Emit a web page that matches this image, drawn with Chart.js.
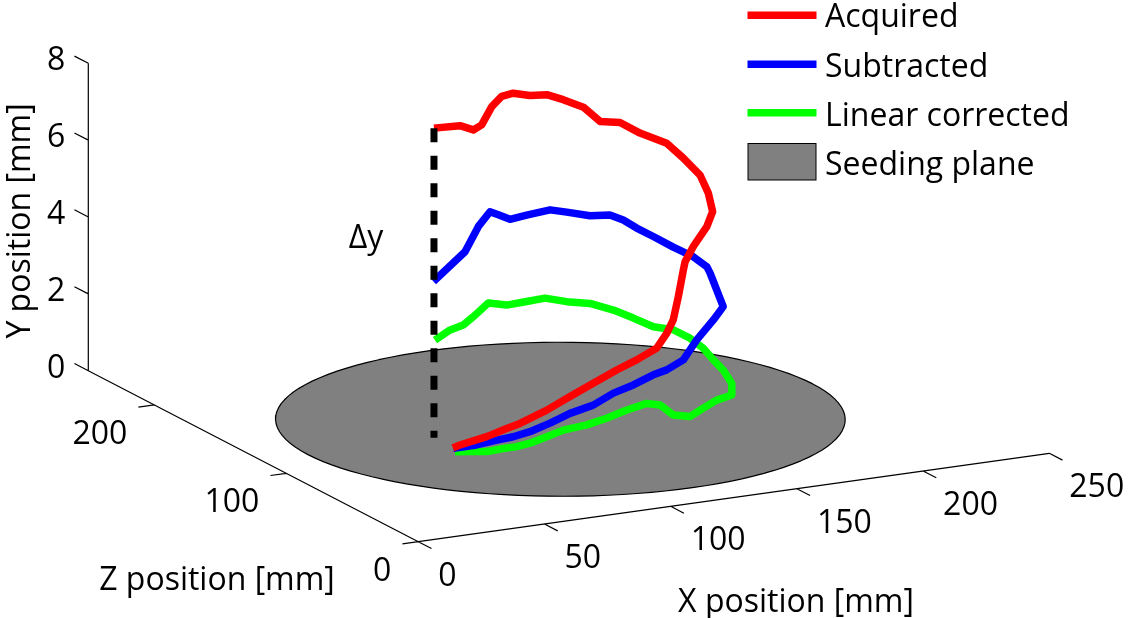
<!DOCTYPE html>
<html>
<head>
<meta charset="utf-8">
<script src="https://cdn.jsdelivr.net/npm/chart.js@4/dist/chart.umd.min.js"></script>
<style>
  html, body { margin: 0; padding: 0; background: #ffffff; }
  #wrap { width: 1128px; height: 618px; position: relative; }
</style>
</head>
<body>
<div id="wrap"><canvas id="chart"></canvas></div>
<script>
// ---- Axis ranges and ticks (mm) ----
const xRange = [0, 250];
const yRange = [0, 8];
const zRange = [0, 250];
const xTicks = [0, 50, 100, 150, 200, 250];
const yTicks = [0, 2, 4, 6, 8];
const zTicks = [0, 100, 200];

// ---- Trajectories: X and Y positions (mm), all tracked at depth Z ----
const trackZ = 117;

const acquiredX = [74.9, 77.7, 88.3, 96.2, 101.5, 112.1, 121.3, 130.5, 139.8, 147.7, 155.6, 159.6, 162.2, 164.2,
  166.2, 166.9, 170.1, 175.5, 177.8, 176.1, 172.8, 166.2, 159.6, 149.0, 141.1, 133.2, 126.6, 118.6, 112.1,
  105.4, 98.8, 94.2, 90.3, 86.3, 83.0, 77.7, 67.4];
const acquiredY = [-0.33, -0.28, -0.16, -0.02, 0.06, 0.31, 0.58, 0.84, 1.10, 1.29, 1.52, 1.87, 2.20, 2.78,
  3.46, 3.67, 4.03, 4.50, 4.87, 5.37, 5.87, 6.37, 6.82, 7.18, 7.53, 7.63, 8.06, 8.33, 8.52,
  8.56, 8.68, 8.64, 8.41, 7.97, 7.87, 8.03, 8.06];

const subtractedX = [75.1, 84.3, 92.3, 98.8, 105.4, 113.4, 121.3, 130.5, 138.5, 146.4, 154.3, 159.6, 166.2, 171.5,
  178.1, 182.0, 179.4, 176.8, 175.5, 170.1, 162.2, 154.3, 147.7, 142.4, 137.1, 129.2, 120.0, 113.4,
  104.1, 97.5, 92.9, 89.6, 85.0, 79.7, 67.2];
const subtractedY = [-0.34, -0.34, -0.29, -0.26, -0.19, -0.04, 0.14, 0.27, 0.51, 0.65, 0.84, 0.92, 1.12, 1.59,
  2.05, 2.36, 2.82, 3.28, 3.46, 3.77, 4.09, 4.44, 4.72, 4.98, 5.16, 5.21, 5.39, 5.51,
  5.46, 5.41, 5.57, 5.68, 5.34, 4.73, 4.07];

const correctedX = [75.7, 81.7, 88.3, 94.9, 100.2, 105.4, 112.1, 118.6, 127.9, 135.8, 143.8, 151.7, 157.0, 162.2,
  168.8, 174.1, 179.4, 185.4, 185.4, 182.0, 178.1, 174.1, 168.8, 162.2, 154.3, 146.4, 138.5, 129.2,
  120.0, 111.4, 104.1, 96.2, 88.9, 83.0, 79.0, 73.8, 67.8];
const correctedY = [-0.44, -0.49, -0.55, -0.53, -0.53, -0.49, -0.38, -0.27, -0.22, -0.12, 0.02, 0.12, 0.03, -0.28,
  -0.38, -0.21, -0.05, 0.03, 0.33, 0.71, 1.01, 1.35, 1.66, 1.94, 2.09, 2.39, 2.67, 2.93,
  3.06, 3.23, 3.21, 3.19, 3.31, 3.01, 2.83, 2.75, 2.54];

// ---- Seeding plane (disk at Y = 0) and drift marker ----
const seedCenterX = 118, seedCenterZ = 118, seedRadius = 100;
const driftX = 67.4, driftTopY = 8.06;

const seriesNames = ['Acquired', 'Subtracted', 'Linear corrected', 'Seeding plane'];
const seriesColors = ['#ff0000', '#0000ff', '#00ff00', '#808080'];

// ---- 3-D view: screen placement of the axis box ----
const W = 1128, H = 618;
const view = { origin: [418.3, 541.7], xEnd: [1049.3, 453.3], zEnd: [88.3, 370.7], yLen: 307.4 };
function project(x, y, z) {
  const fx = (x - xRange[0]) / (xRange[1] - xRange[0]);
  const fy = (y - yRange[0]) / (yRange[1] - yRange[0]);
  const fz = (z - zRange[0]) / (zRange[1] - zRange[0]);
  return {
    x: view.origin[0] + fx * (view.xEnd[0] - view.origin[0]) + fz * (view.zEnd[0] - view.origin[0]),
    y: view.origin[1] + fx * (view.xEnd[1] - view.origin[1]) + fz * (view.zEnd[1] - view.origin[1]) - fy * view.yLen
  };
}
function track(xs, ys) { return xs.map((x, i) => project(x, ys[i], trackZ)); }

function seedOutline() {
  const pts = [];
  const n = 120;
  for (let k = 0; k <= n; k++) {
    const t = 2 * Math.PI * k / n;
    pts.push(project(seedCenterX + seedRadius * Math.cos(t), 0, seedCenterZ + seedRadius * Math.sin(t)));
  }
  return pts;
}

// Axis lines plus tick marks, segments split by gaps
function axisFrame() {
  const gap = { x: null, y: null };
  const pts = [];
  const seg = (a, b) => { pts.push(a, b, gap); };
  seg(project(xRange[0], 0, 0), project(xRange[1], 0, 0));
  seg(project(0, 0, zRange[0]), project(0, 0, zRange[1]));
  seg(project(0, yRange[0], zRange[1]), project(0, yRange[1], zRange[1]));
  xTicks.forEach(v => seg(project(v, 0, 0), project(v, 0, -10)));
  zTicks.forEach(v => seg(project(0, 0, v), project(-6.3, 0, v)));
  yTicks.forEach(v => seg(project(0, v, zRange[1]), project(0, v, zRange[1] + 10.5)));
  return pts;
}

const FONT = '"Open Sans", "DejaVu Sans", sans-serif';

const labelsPlugin = {
  id: 'labels3d',
  afterDatasetsDraw(chart) {
    const ctx = chart.ctx;
    const sx = chart.scales.x, sy = chart.scales.y;
    const px = p => ({ x: sx.getPixelForValue(p.x), y: sy.getPixelForValue(p.y) });
    ctx.save();
    ctx.fillStyle = '#000';
    ctx.font = '32px ' + FONT;
    ctx.textBaseline = 'alphabetic';

    ctx.textAlign = 'left';
    xTicks.forEach(v => { const p = px(project(v, 0, 0)); ctx.fillText(String(v), p.x + 20, p.y + 44); });
    ctx.textAlign = 'right';
    zTicks.forEach(v => { const p = px(project(0, 0, v)); ctx.fillText(String(v), p.x - 27, p.y + 39); });
    yTicks.forEach(v => { const p = px(project(0, v, zRange[1])); ctx.fillText(String(v), p.x - 23, p.y + 7); });

    ctx.textAlign = 'center';
    ctx.fillText('X position [mm]', 796, 612);
    ctx.fillText('Z position [mm]', 217, 590);
    ctx.fillText('\u0394y', 366, 248);
    ctx.save();
    ctx.translate(30, 221);
    ctx.rotate(-Math.PI / 2);
    ctx.fillText('Y position [mm]', 0, 0);
    ctx.restore();

    // legend
    const rows = [15.3, 64.2, 112.8, 161.7];
    const bases = [27.3, 76.7, 126.2, 175.2];
    ctx.textAlign = 'left';
    for (let i = 0; i < 4; i++) {
      if (i < 3) {
        ctx.strokeStyle = seriesColors[i];
        ctx.lineWidth = 7.5;
        ctx.lineCap = 'butt';
        ctx.beginPath();
        ctx.moveTo(747.5, rows[i]);
        ctx.lineTo(816.5, rows[i]);
        ctx.stroke();
      } else {
        ctx.fillStyle = seriesColors[3];
        ctx.fillRect(748, 143.5, 68, 36.5);
        ctx.strokeStyle = '#000';
        ctx.lineWidth = 1;
        ctx.strokeRect(748, 143.5, 68, 36.5);
      }
      ctx.fillStyle = '#000';
      ctx.fillText(seriesNames[i], 825, bases[i]);
    }
    ctx.restore();
  }
};

const lineBase = { showLine: true, pointRadius: 0, pointHoverRadius: 0, borderWidth: 7.5,
  borderCapStyle: 'butt', borderJoinStyle: 'round', tension: 0, clip: false, spanGaps: false };

new Chart(document.getElementById('chart'), {
  type: 'scatter',
  data: {
    datasets: [
      Object.assign({}, lineBase, { label: 'Δy', data: [project(driftX, driftTopY, trackZ), project(driftX, 0, trackZ)],
        borderColor: '#000000', borderDash: [14, 13.5], borderWidth: 7, order: 0 }),
      Object.assign({}, lineBase, { label: seriesNames[0], data: track(acquiredX, acquiredY), borderColor: seriesColors[0], order: 1 }),
      Object.assign({}, lineBase, { label: seriesNames[1], data: track(subtractedX, subtractedY), borderColor: seriesColors[1], order: 2 }),
      Object.assign({}, lineBase, { label: seriesNames[2], data: track(correctedX, correctedY), borderColor: seriesColors[2], order: 3 }),
      Object.assign({}, lineBase, { label: 'axes', data: axisFrame(), borderColor: '#000000', borderWidth: 1.2, order: 4 }),
      Object.assign({}, lineBase, { label: seriesNames[3], data: seedOutline(), borderColor: '#000000', borderWidth: 1.2,
        backgroundColor: seriesColors[3], fill: 'shape', order: 5 })
    ]
  },
  options: {
    responsive: true,
    maintainAspectRatio: false,
    animation: false,
    events: [],
    layout: { padding: 0 },
    scales: {
      x: { type: 'linear', min: 0, max: W, display: false },
      y: { type: 'linear', min: 0, max: H, reverse: true, display: false }
    },
    plugins: { legend: { display: false }, tooltip: { enabled: false } }
  },
  plugins: [labelsPlugin]
});
</script>
</body>
</html>
